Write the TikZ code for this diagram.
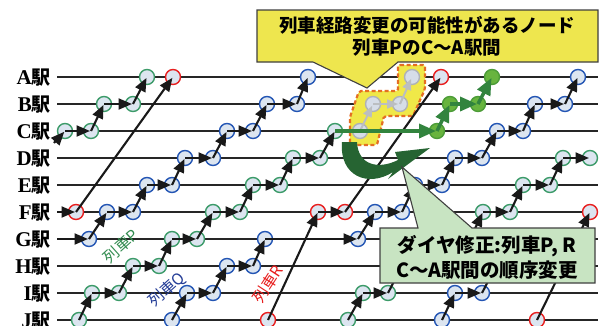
\documentclass[tikz,border=0pt]{standalone}
\usepackage{fontspec}
\newfontfamily\cjk{Noto Sans CJK JP}
\newfontfamily\lser{Liberation Serif}
\usetikzlibrary{arrows.meta}
\definecolor{gcol}{RGB}{60,155,105}
\definecolor{bcol}{RGB}{35,85,180}
\definecolor{rcol}{RGB}{232,30,30}
\definecolor{nfill}{RGB}{220,229,240}
\definecolor{greyc}{RGB}{175,178,182}
\definecolor{greyfill}{RGB}{214,221,232}
\definecolor{fgfill}{RGB}{104,180,62}
\definecolor{fgdraw}{RGB}{76,156,56}
\definecolor{marr}{RGB}{50,132,62}
\definecolor{curlc}{RGB}{38,100,50}
\definecolor{yel}{RGB}{238,230,78}
\definecolor{hlfill}{RGB}{240,232,72}
\definecolor{hlline}{RGB}{228,110,35}
\definecolor{cgreen}{RGB}{200,228,194}
\definecolor{lblP}{RGB}{50,140,80}
\definecolor{lblQ}{RGB}{35,60,150}
\tikzset{
  stn/.style={draw=black!85, line width=1.1pt},
  nd/.style={circle, minimum size=15pt, inner sep=0pt, line width=1.4pt, fill=nfill},
  gn/.style={nd, draw=gcol},
  bn/.style={nd, draw=bcol},
  rn/.style={nd, draw=rcol},
  grn/.style={nd, draw=greyc, fill=greyfill},
  fgn/.style={nd, draw=fgdraw, fill=fgfill},
  arr/.style={-{Triangle[length=13.5pt,width=11pt]}, line width=2.1pt, draw=black!90, shorten >=1pt},
  garr/.style={-{Triangle[length=11pt,width=9pt]}, line width=2pt, draw=greyc!85, shorten >=2pt},
  marrow/.style={-{Triangle[length=17pt,width=14pt]}, line width=3.5pt, draw=marr, shorten >=1pt},
  stlab/.style={anchor=base east, inner sep=0pt, font=\fontsize{19}{19}\selectfont},
  callout/.style={draw=black!75, line width=1.1pt},
  ctext/.style={anchor=base, inner sep=0pt, font=\cjk\bfseries\fontsize{18.5}{18.5}\selectfont},
  btext/.style={anchor=base, inner sep=0pt, font=\cjk\bfseries\fontsize{19.5}{19.5}\selectfont},
  tlab/.style={inner sep=0pt, font=\cjk\fontsize{15.5}{15.5}\selectfont}
}
\begin{document}
\begin{tikzpicture}[x=1pt,y=-1pt]
\useasboundingbox (0,0) rectangle (603,325);
\fill[white] (0,0) rectangle (603,325);
% station lines and labels
\foreach \r/\y in {A/77,B/104,C/131,D/158,E/185,F/212,G/239,H/266,I/293,J/320}{
  \draw[stn] (57,\y) -- (598,\y);
  \node[stlab] (l\r) at (51,\y+7) {{\lser\bfseries\fontsize{21}{21}\selectfont \r}{\cjk\bfseries 駅}};
}
% top callout
\draw[callout, fill=yel] (257,10) -- (598,10) -- (598,62) -- (398,62) -- (367,88) -- (313,62) -- (257,62) -- cycle;
\node[ctext] (t1) at (427,32) {列車経路変更の可能性があるノード};
\node[ctext] (t2) at (427,54) {列車PのC～A駅間};
% highlight region
\draw[fill=hlfill, draw=hlline, line width=2.2pt, dash pattern=on 4pt off 2.5pt, rounded corners=2pt]
  (398,65) -- (425,65) -- (425,89) -- (413,116) -- (384,116) -- (377,145) -- (350,145) -- (350,117) -- (359,91) -- (398,91) -- cycle;
% nodes row A
\node[gn] (A147) at (147,77) {};
\node[rn] (A173) at (173,77) {};
\node[bn] (A308) at (308,77) {};
\node[grn] (A412) at (412,77) {};
\node[rn] (A441) at (441,77) {};
\node[fgn] (A492) at (492,77) {};
\node[bn] (A578) at (578,77) {};
% row B
\node[gn] (B104) at (104,104) {};
\node[gn] (B133) at (133,104) {};
\node[bn] (B267) at (267,104) {};
\node[bn] (B297) at (297,104) {};
\node[grn] (B373) at (373,104) {};
\node[grn] (B400) at (400,104) {};
\node[fgn] (B450) at (450,104) {};
\node[fgn] (B478) at (478,104) {};
\node[bn] (B535) at (535,104) {};
\node[bn] (B565) at (565,104) {};
% row C
\node[gn] (C65) at (65,131) {};
\node[gn] (C91) at (91,131) {};
\node[bn] (C227) at (227,131) {};
\node[bn] (C253) at (253,131) {};
\node[gn] (C335) at (335,131) {};
\node[grn] (C360) at (360,131) {};
\node[fgn] (C437) at (437,131) {};
\node[bn] (C497) at (497,131) {};
\node[bn] (C523) at (523,131) {};
% row D
\node[bn] (D185) at (185,158) {};
\node[bn] (D213) at (213,158) {};
\node[gn] (D293) at (293,158) {};
\node[gn] (D320) at (320,158) {};
\node[bn] (D455) at (455,158) {};
\node[bn] (D482) at (482,158) {};
\node[gn] (D563) at (563,158) {};
\node[gn] (D590) at (590,158) {};
% row E
\node[bn] (E147) at (147,185) {};
\node[bn] (E172) at (172,185) {};
\node[gn] (E253) at (253,185) {};
\node[gn] (E280) at (280,185) {};
\node[bn] (E415) at (415,185) {};
\node[bn] (E442) at (442,185) {};
\node[gn] (E523) at (523,185) {};
\node[gn] (E550) at (550,185) {};
% row F
\node[rn] (F76) at (76,212) {};
\node[bn] (F107) at (107,212) {};
\node[bn] (F133) at (133,212) {};
\node[gn] (F213) at (213,212) {};
\node[gn] (F240) at (240,212) {};
\node[rn] (F318) at (318,212) {};
\node[rn] (F345) at (345,212) {};
\node[bn] (F375) at (375,212) {};
\node[bn] (F402) at (402,212) {};
\node[gn] (F483) at (483,212) {};
\node[gn] (F510) at (510,212) {};
\node[rn] (F590) at (590,212) {};
% row G
\node[bn] (G89) at (89,239) {};
\node[gn] (G172) at (172,239) {};
\node[gn] (G197) at (197,239) {};
\node[bn] (G265) at (265,239) {};
\node[bn] (G358) at (358,239) {};
% row H
\node[gn] (H133) at (133,266) {};
\node[gn] (H159) at (159,266) {};
\node[bn] (H227) at (227,266) {};
\node[bn] (H253) at (253,266) {};
% row I
\node[gn] (I92) at (92,293) {};
\node[gn] (I119) at (119,293) {};
\node[bn] (I187) at (187,293) {};
\node[bn] (I213) at (213,293) {};
\node[gn] (I363) at (363,293) {};
\node[gn] (I388) at (388,293) {};
\node[bn] (I455) at (455,293) {};
\node[bn] (I482) at (482,293) {};
% row J
\node[gn] (J79) at (79,320) {};
\node[bn] (J172) at (172,320) {};
\node[rn] (J268) at (268,320) {};
\node[gn] (J348) at (348,320) {};
\node[bn] (J442) at (442,320) {};
\node[rn] (J537) at (537,320) {};
% free ends
\coordinate (eC) at (54,143);
\coordinate (eF) at (57,212);
\coordinate (eG) at (57,239);
\coordinate (hH3) at (402,266);
\coordinate (hG3) at (470,239);
\coordinate (hH4) at (496,266);
% black arrows
\draw[arr] (eC) -- (C65.center);
\draw[arr] (eF) -- (F76.center);
\draw[arr] (eG) -- (G89.center);
\foreach \a/\b in {C65/C91,C91/B104,B104/B133,B133/A147,
  F76/A173,
  G89/F107,F107/F133,F133/E147,E147/E172,E172/D185,D185/D213,D213/C227,C227/C253,C253/B267,B267/B297,B297/A308,
  J79/I92,I92/I119,I119/H133,H133/H159,H159/G172,G172/G197,G197/F213,F213/F240,F240/E253,E253/E280,E280/D293,D293/D320,D320/C335,
  J172/I187,I187/I213,I213/H227,H227/H253,H253/G265,G265/G358,G358/F375,F375/F402,F402/E415,E415/E442,E442/D455,D455/D482,D482/C497,C497/C523,C523/B535,B535/B565,B565/A578,
  J268/F318,F318/F345,F345/A441,
  J348/I363,I363/I388,F483/F510,F510/E523,E523/E550,E550/D563,D563/D590,
  J442/I455,I455/I482,J537/F590}{
  \draw[arr] (\a.center) -- (\b.center);
}
\draw[arr] (I388.center) -- (hH3);
\draw[arr] (hG3) -- (F483.center);
\draw[arr] (I482.center) -- (hH4);
% grey original route
\foreach \a/\b in {C360/B373,B373/B400,B400/A412}{
  \draw[garr] (\a.center) -- (\b.center);
}
% modified route
\draw[marrow] (C335.center) -- (C437.center);
\draw[marrow] (C437.center) -- (B450.center);
\draw[marrow] (B450.center) -- (B478.center);
\draw[marrow] (B478.center) -- (A492.center);
% curl arrow
\fill[curlc] (342,142) .. controls (339,176) and (368,188) .. (393,172)
  -- (388,179) -- (430,148) -- (395,152) -- (398,160)
  .. controls (378,170) and (358,165) .. (357,142) -- cycle;
% train labels
\node[tlab, text=lblP, rotate=42] (lp) at (121,246) {列車P};
\node[tlab, text=lblQ, rotate=42] (lq) at (167,290) {列車Q};
\node[tlab, text=rcol, rotate=57] (lr) at (268,284) {列車R};
% bottom callout
\draw[callout, fill=cgreen] (380,228) -- (418,228) -- (402,167) -- (472,228) -- (595,228) -- (595,283) -- (380,283) -- cycle;
\node[btext] (b1) at (487,252) {ダイヤ修正:列車P, R};
\node[btext] (b2) at (487,277) {C～A駅間の順序変更};
\end{tikzpicture}
\end{document}
